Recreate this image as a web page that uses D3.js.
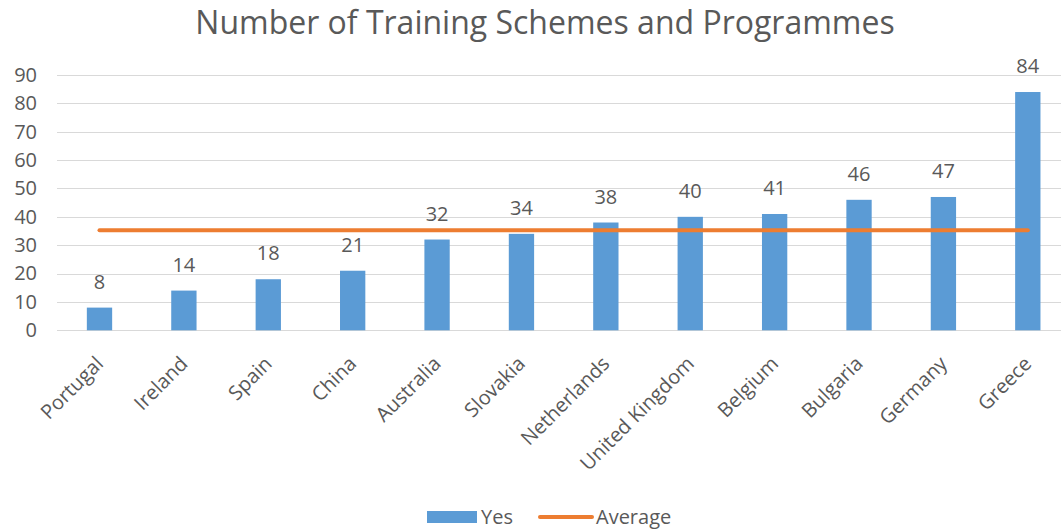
<!DOCTYPE html>
<html><head><meta charset="utf-8">
<script src="https://cdn.jsdelivr.net/npm/d3@7"></script>
<style>
html,body{margin:0;padding:0;background:#fff;overflow:hidden;}
text{font-family:"Open Sans","Noto Sans",sans-serif;fill:#595959;}
</style></head>
<body><svg id="c" width="1061" height="531"></svg>
<script>
const categories = ["Portugal","Ireland","Spain","China","Australia","Slovakia","Netherlands","United Kingdom","Belgium","Bulgaria","Germany","Greece"];
const yesValues = [8,14,18,21,32,34,38,40,41,46,47,84];
const averageValues = [35.25,35.25,35.25,35.25,35.25,35.25,35.25,35.25,35.25,35.25,35.25,35.25];
const yTicks = [0,10,20,30,40,50,60,70,80,90];
const title = "Number of Training Schemes and Programmes";
const legendLabels = ["Yes","Average"];

const svg = d3.select("#c");
const x = d3.scaleBand().domain(categories).range([57.3, 1070]).paddingInner(0.7).paddingOuter(0.35);
const y = d3.scaleLinear().domain([0,90]).range([330.3, 75]);

// gridlines
svg.append("g").selectAll("line").data(yTicks).join("line")
  .attr("x1", 57).attr("x2", 1061)
  .attr("y1", d => Math.round(y(d))+0.5).attr("y2", d => Math.round(y(d))+0.5)
  .attr("stroke", "#d9d9d9").attr("stroke-width", 1);

// y axis labels
const yAxis = d3.axisLeft(y).tickValues(yTicks).tickSize(0).tickPadding(0);
const yg = svg.append("g").attr("transform","translate(37,0)").call(yAxis);
yg.select(".domain").remove();
yg.selectAll("text").attr("font-size", 20).attr("fill","#595959")
  .style("font-family","'Open Sans','Noto Sans',sans-serif");

// bars
svg.append("g").selectAll("rect").data(yesValues).join("rect")
  .attr("x", (d,i) => x(categories[i]))
  .attr("width", x.bandwidth())
  .attr("y", d => y(d))
  .attr("height", d => y(0) - y(d))
  .attr("fill", "#5B9BD5");

// data labels
svg.append("g").selectAll("text").data(yesValues).join("text")
  .attr("x", (d,i) => x(categories[i]) + x.bandwidth()/2)
  .attr("y", d => y(d) - 19)
  .attr("text-anchor","middle")
  .attr("font-size", 20)
  .text(d => d);

// average line
const cx = c => x(c) + x.bandwidth()/2;
svg.append("path")
  .datum(averageValues)
  .attr("d", d3.line().x((d,i) => cx(categories[i])).y(d => y(d)))
  .attr("fill","none").attr("stroke","#ED7D31").attr("stroke-width",4).attr("stroke-linecap","round");

// x axis labels
const xAxis = d3.axisBottom(x).tickSize(0).tickPadding(0);
const xg = svg.append("g").attr("transform","translate(0,330)").call(xAxis);
xg.select(".domain").remove();
xg.selectAll("text")
  .attr("font-size", 20)
  .attr("fill","#595959")
  .style("font-family","'Open Sans','Noto Sans',sans-serif")
  .attr("text-anchor","end")
  .attr("dy", null)
  .attr("y", 0)
  .attr("transform","translate(5,35) rotate(-45)");

// title
svg.append("text").attr("x", 545).attr("y", 34).attr("text-anchor","middle")
  .attr("font-size", 32).text(title);

// legend
const lg = svg.append("g");
lg.append("rect").attr("x",427).attr("y",511).attr("width",50).attr("height",12).attr("fill","#5B9BD5");
lg.append("text").attr("x",481).attr("y",524).attr("font-size",20).text(legendLabels[0]);
lg.append("line").attr("x1",540).attr("x2",592).attr("y1",517).attr("y2",517)
  .attr("stroke","#ED7D31").attr("stroke-width",4).attr("stroke-linecap","round");
lg.append("text").attr("x",596).attr("y",524).attr("font-size",20).text(legendLabels[1]);
</script></body></html>
